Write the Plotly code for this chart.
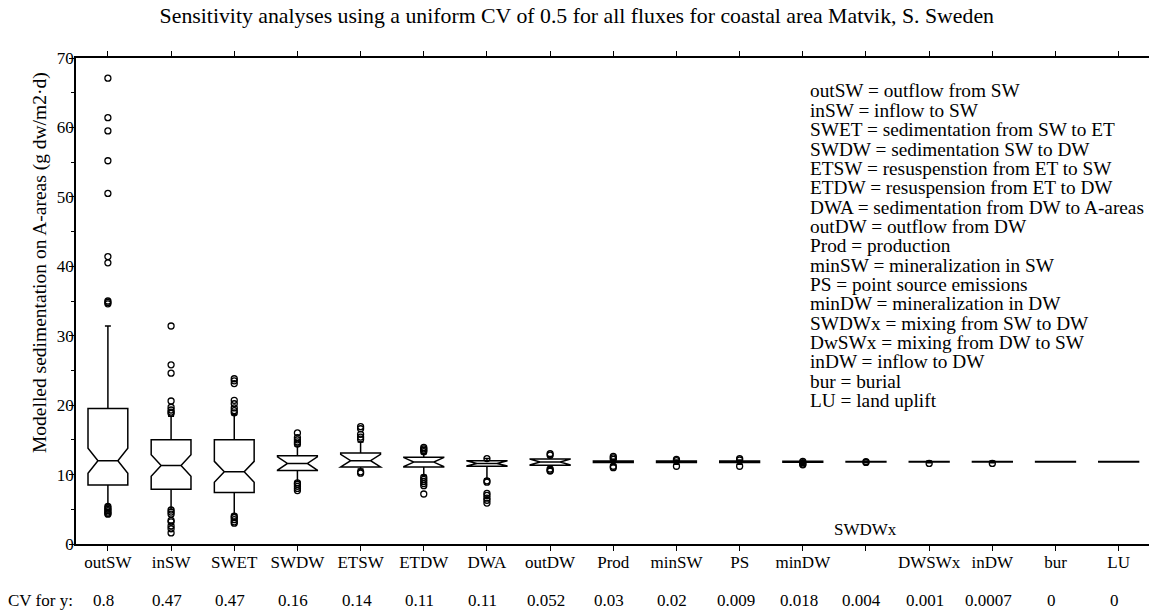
import plotly.graph_objects as go

# ---------------- data ----------------
categories = ["outSW", "inSW", "SWET", "SWDW", "ETSW", "ETDW", "DWA", "outDW", "Prod",
              "minSW", "PS", "minDW", "SWDWx", "DWSWx", "inDW", "bur", "LU"]
tick_labels = ["outSW", "inSW", "SWET", "SWDW", "ETSW", "ETDW", "DWA", "outDW", "Prod",
               "minSW", "PS", "minDW", "", "DWSWx", "inDW", "bur", "LU"]

q1 = [8.5, 7.9, 7.4, 10.6, 11.1, 11.1, 11.2, 11.35, 11.75, 11.75, 11.75, 11.78, 11.8, 11.8, 11.8, 11.8, 11.8]
median = [12.0, 11.3, 10.4, 11.6, 12.0, 11.8, 11.6, 11.8, 11.85, 11.85, 11.85, 11.85, 11.85, 11.85, 11.85, 11.85, 11.85]
q3 = [19.5, 15.0, 15.0, 12.7, 13.1, 12.5, 12.0, 12.25, 11.95, 11.95, 11.95, 11.92, 11.9, 11.9, 11.9, 11.9, 11.9]
lower_whisker = [5.6, 5.0, 4.3, 9.0, 10.8, 9.9, 9.4, 10.9, 11.4, 11.5, 11.5, 11.6, 11.7, 11.7, 11.7, 11.8, 11.8]
upper_whisker = [31.4, 18.4, 18.6, 14.1, 14.7, 13.0, 12.3, 12.6, 12.2, 12.1, 12.1, 12.0, 11.95, 11.95, 11.95, 11.9, 11.9]
notch_half = [1.8, 1.55, 1.5, 0.95, 0.9, 0.65, 0.35, 0.4, 0.05, 0.05, 0.05, 0.05, 0.04, 0.04, 0.04, 0.04, 0.04]

outlier_cat = (["outSW"] * 17 + ["inSW"] * 16 + ["SWET"] * 13 + ["SWDW"] * 10 + ["ETSW"] * 7
               + ["ETDW"] * 10 + ["DWA"] * 8 + ["outDW"] * 5 + ["Prod"] * 5 + ["minSW"] * 3
               + ["PS"] * 3 + ["minDW"] * 4 + ["SWDWx"] * 2 + ["DWSWx"] + ["inDW"])
outlier_val = ([67.1, 61.4, 59.5, 55.2, 50.5, 41.4, 40.5, 35.0, 34.8, 34.6,
                5.4, 5.2, 5.0, 4.8, 4.6, 4.4, 4.3]
               + [31.4, 25.8, 24.6, 20.6, 19.7, 19.3, 19.0, 18.8,
                  4.9, 4.6, 4.3, 3.4, 3.2, 2.6, 2.2, 1.6]
               + [23.8, 23.5, 23.1, 20.7, 20.2, 19.6, 19.2, 18.9,
                  4.0, 3.8, 3.5, 3.2, 3.0]
               + [16.0, 15.3, 15.0, 14.7, 14.4, 8.8, 8.6, 8.3, 8.0, 7.7]
               + [16.9, 16.6, 15.8, 15.4, 15.1, 10.4, 10.2]
               + [13.9, 13.7, 13.5, 13.3, 9.6, 9.3, 9.0, 8.7, 8.4, 7.2]
               + [12.3, 9.1, 8.9, 7.3, 7.0, 6.6, 6.3, 5.9]
               + [13.0, 12.8, 10.8, 10.6, 10.5]
               + [12.6, 12.4, 12.2, 11.2, 11.0]
               + [12.2, 12.0, 11.2]
               + [12.3, 12.1, 11.2]
               + [11.9, 11.7, 11.5, 11.4]
               + [11.85, 11.75]
               + [11.6]
               + [11.6])

cv_values = ["0.8", "0.47", "0.47", "0.16", "0.14", "0.11", "0.11", "0.052", "0.03",
             "0.02", "0.009", "0.018", "0.004", "0.001", "0.0007", "0", "0"]

legend_lines = [
    "outSW = outflow from SW",
    "inSW = inflow to SW",
    "SWET = sedimentation from SW to ET",
    "SWDW = sedimentation SW to DW",
    "ETSW = resuspenstion from ET to SW",
    "ETDW = resuspension from ET to DW",
    "DWA = sedimentation from DW to A-areas",
    "outDW = outflow from DW",
    "Prod = production",
    "minSW = mineralization in SW",
    "PS = point source emissions",
    "minDW = mineralization in DW",
    "SWDWx = mixing from SW to DW",
    "DwSWx = mixing from DW to SW",
    "inDW = inflow to DW",
    "bur = burial",
    "LU = land uplift",
]

title_text = "Sensitivity analyses using a uniform CV of 0.5 for all fluxes for coastal area Matvik, S. Sweden"
y_title = "Modelled sedimentation on A-areas (g dw/m2·d)"

# ---------------- figure ----------------
FONT = "Liberation Serif"
W, H = 1149, 612
ML, MR, MT, MB = 76, 0, 58, 68
PW, PH = W - ML - MR, H - MT - MB


def px_x(p):
    return (p - ML) / PW


def px_y(p):
    return (H - MB - p) / PH


fig = go.Figure()

fig.add_trace(go.Box(
    x=categories, q1=q1, median=median, q3=q3,
    lowerfence=lower_whisker, upperfence=upper_whisker,
    notchspan=notch_half, notched=True, notchwidth=0.25,
    boxpoints=False, width=0.63, whiskerwidth=0.15,
    fillcolor="white", line=dict(color="black", width=1.5),
    showlegend=False, hoverinfo="skip",
))

fig.add_trace(go.Scatter(
    x=outlier_cat, y=outlier_val, mode="markers",
    marker=dict(symbol="circle-open", size=6, color="black", line=dict(width=1.3)),
    showlegend=False, hoverinfo="skip",
))

annotations = []
# y-axis title
annotations.append(dict(
    text=y_title, xref="paper", yref="paper", x=px_x(40), y=px_y(263),
    textangle=-90, showarrow=False, xanchor="center", yanchor="middle",
    font=dict(family=FONT, size=19.5, color="black"),
))
# legend lines
for i, line in enumerate(legend_lines):
    annotations.append(dict(
        text=line, xref="paper", yref="paper", x=px_x(808), y=px_y(91 + 19.35 * i),
        showarrow=False, xanchor="left", yanchor="middle",
        font=dict(family=FONT, size=19.3, color="black"),
    ))
# misplaced category label inside plot
annotations.append(dict(
    text="SWDWx", x="SWDWx", xref="x", yref="paper", y=px_y(529),
    showarrow=False, xanchor="center", yanchor="middle",
    font=dict(family=FONT, size=17, color="black"),
))
# CV row
annotations.append(dict(
    text="CV for y:", xref="paper", yref="paper", x=px_x(6), y=px_y(600),
    showarrow=False, xanchor="left", yanchor="middle",
    font=dict(family=FONT, size=17, color="black"),
))
for c, v in zip(categories, cv_values):
    annotations.append(dict(
        text=v, x=c, xref="x", yref="paper", y=px_y(600), xshift=-4,
        showarrow=False, xanchor="center", yanchor="middle",
        font=dict(family=FONT, size=17, color="black"),
    ))

fig.update_layout(
    width=W, height=H,
    margin=dict(l=ML, r=MR, t=MT, b=MB, pad=0),
    paper_bgcolor="white", plot_bgcolor="white",
    font=dict(family=FONT, size=17, color="black"),
    title=dict(text=title_text, x=0.502, xref="container", xanchor="center",
               y=1 - 15 / H, yref="container", yanchor="middle",
               font=dict(family=FONT, size=21.8, color="black")),
    annotations=annotations,
    xaxis=dict(
        type="category", categoryorder="array", categoryarray=categories,
        tickmode="array", tickvals=categories, ticktext=tick_labels,
        range=[-0.505, 16.48], showgrid=False, zeroline=False,
        showline=True, linecolor="black", linewidth=1.5, mirror="ticks",
        ticks="outside", ticklen=5, tickwidth=1.2, tickcolor="black",
        ticklabelstandoff=-3,
        tickfont=dict(family=FONT, size=17, color="black"),
    ),
    yaxis=dict(
        range=[0, 70], dtick=10, tick0=0, showgrid=False, zeroline=False,
        showline=True, linecolor="black", linewidth=1.5,
        ticks="outside", ticklen=5, tickwidth=1.2, tickcolor="black",
        ticklabelstandoff=-8,
        tickfont=dict(family=FONT, size=17, color="black"),
        minor=dict(dtick=5, ticks="outside", ticklen=3, tickwidth=1, tickcolor="black", showgrid=False),
    ),
)

fig.write_html("out.html")
